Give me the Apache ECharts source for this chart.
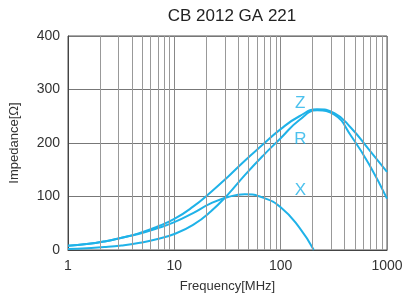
<!DOCTYPE html>
<html><head><meta charset="utf-8">
<script src="https://cdn.jsdelivr.net/npm/echarts@6/dist/echarts.min.js"></script>
<style>html,body{margin:0;padding:0;background:#fff}#c{width:411px;height:307px}</style>
</head><body><div id="c"></div>
<script>
const title = 'CB 2012 GA 221';
const freqZR = [1, 1.5, 2.2, 3.2, 4.6, 6.8, 10, 15, 22, 32, 46, 68, 100, 150, 220, 320, 460, 680, 1000];
const zVals  = [8, 11, 16, 23, 31, 43, 58, 81, 108, 137, 167, 197, 226, 250, 263, 256, 228, 187, 146];
const rVals  = [2, 3.5, 5.5, 8.5, 13, 20, 30, 47, 72, 104, 140, 176, 209, 243, 261, 253, 213, 160, 96];
const freqX  = [1, 1.5, 2.2, 3.2, 4.6, 6.8, 10, 15, 22, 32, 46, 68, 100, 150, 205];
const xVals  = [8, 11, 16, 23, 30, 40, 52, 69, 87, 99, 104, 98, 80, 42, 0];
const minorGrid = [2,3,4,5,6,7,8,9,20,30,40,50,60,70,80,90,200,300,400,500,600,700,800,900];
const curveLabels = [{name:'Z', f:153, v:275}, {name:'R', f:153, v:206}, {name:'X', f:153, v:112}];

const color = '#1fb2e8';
const txt = '#333';
const font = 'Liberation Sans, Arial, sans-serif';
const pair = (xs, ys) => xs.map((x, i) => [x, ys[i]]);

const chart = echarts.init(document.getElementById('c'));
chart.setOption({
  animation: false,
  title: {text: title, left: 227, top: 3, textAlign: 'center',
    textStyle: {fontFamily: font, fontSize: 17, fontWeight: 'normal', color: '#222'}},
  grid: {left: 67, right: 24, top: 36, bottom: 57, show: true, borderColor: '#555', borderWidth: 1},
  xAxis: {type: 'log', logBase: 10, min: 1, max: 1000,
    name: 'Frequency[MHz]', nameLocation: 'middle', nameGap: 30,
    nameTextStyle: {fontFamily: font, fontSize: 13, color: txt},
    axisLine: {lineStyle: {color: '#444'}}, axisTick: {show: false},
    axisLabel: {fontFamily: font, fontSize: 14, color: txt, margin: 9, formatter: v => String(Math.round(v))},
    splitLine: {show: true, lineStyle: {color: '#888', width: 1}}},
  yAxis: {type: 'value', min: 0, max: 400, interval: 100,
    name: 'Impedance[Ω]', nameLocation: 'middle', nameGap: 47,
    nameTextStyle: {fontFamily: font, fontSize: 13, color: txt},
    axisLine: {show: true, lineStyle: {color: '#444'}}, axisTick: {show: false},
    axisLabel: {fontFamily: font, fontSize: 14, color: txt, margin: 8},
    splitLine: {show: true, lineStyle: {color: '#777', width: 1}}},
  series: [
    {type: 'line', data: [], silent: true,
      markLine: {silent: true, symbol: 'none', label: {show: false},
        lineStyle: {color: '#999', width: 1, type: 'solid'},
        data: minorGrid.map(v => ({xAxis: v}))}},
    {name: 'Z', type: 'line', data: pair(freqZR, zVals), smooth: 0.5, showSymbol: false,
      lineStyle: {color: color, width: 2}},
    {name: 'R', type: 'line', data: pair(freqZR, rVals), smooth: 0.5, showSymbol: false,
      lineStyle: {color: color, width: 2}},
    {name: 'X', type: 'line', data: pair(freqX, xVals), smooth: 0.5, showSymbol: false,
      lineStyle: {color: color, width: 2}},
    {type: 'scatter', symbolSize: 0, data: curveLabels.map(d => ({value: [d.f, d.v], name: d.name})),
      label: {show: true, position: 'inside', formatter: p => p.name,
        fontFamily: font, fontSize: 17, color: color}}
  ]
});
</script></body></html>
